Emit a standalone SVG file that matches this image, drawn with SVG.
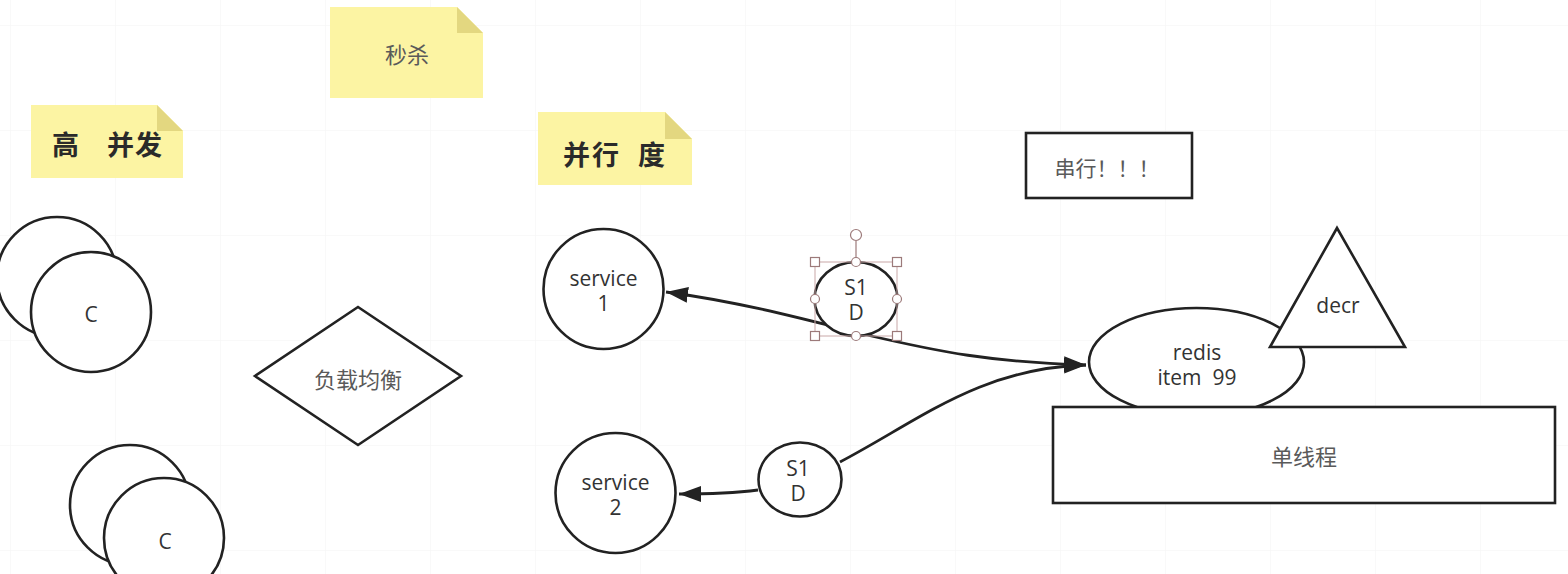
<svg xmlns="http://www.w3.org/2000/svg" width="1568" height="574" viewBox="0 0 1568 574">
  <style>
    .shape { fill: #ffffff; stroke: #222222; stroke-width: 2.6; }
    .note { fill: #fcf4a3; stroke: none; }
    .fold { fill: #e3d780; stroke: none; }
    .en { font-family: "Open Sans", "Noto Sans CJK SC", sans-serif; font-size: 21px; fill: #333333; text-anchor: middle; dominant-baseline: central; }
    .zh { font-family: "Noto Sans CJK SC", "Open Sans", sans-serif; font-size: 21px; fill: #5a5a5a; text-anchor: middle; dominant-baseline: central; }
    .title { font-family: "Noto Sans CJK SC", "Open Sans", sans-serif; font-size: 27px; font-weight: bold; fill: #2a2a2a; dominant-baseline: central; }
    .edge { fill: none; stroke: #222222; stroke-width: 2.8; }
    .handle { fill: #ffffff; stroke: #9c7a7a; stroke-width: 1.2; }
    .selbox { fill: none; stroke: #c9a8a8; stroke-width: 1; }
  </style>
  <defs>
    <pattern id="grid" x="10" y="25" width="105" height="105" patternUnits="userSpaceOnUse">
      <path d="M 0 0 L 105 0 M 0 0 L 0 105" fill="none" stroke="#f3f3f3" stroke-width="1"/>
    </pattern>
    <marker id="arrow" viewBox="0 0 22 16" refX="22" refY="8" markerWidth="22" markerHeight="16" markerUnits="userSpaceOnUse" orient="auto-start-reverse">
      <path d="M 0 0 L 22 8 L 0 16 Z" fill="#222222"/>
    </marker>
  </defs>

  <rect x="0" y="0" width="1568" height="574" fill="#ffffff"/>
  <rect x="0" y="0" width="1568" height="574" fill="url(#grid)"/>

  <!-- sticky notes -->
  <g id="note-miaosha">
    <path class="note" d="M 330 7 L 457 7 L 483 33 L 483 98 L 330 98 Z"/>
    <path class="fold" d="M 457 7 L 483 33 L 457 33 Z"/>
    <text class="zh" x="407" y="53" style="font-size:22px">秒杀</text>
  </g>
  <g id="note-gaobingfa">
    <path class="note" d="M 31 105 L 157 105 L 183 131 L 183 178 L 31 178 Z"/>
    <path class="fold" d="M 157 105 L 183 131 L 157 131 Z"/>
    <text class="title" y="143" x="52 80 107 135">高 并发</text>
  </g>
  <g id="note-bingxingdu">
    <path class="note" d="M 538 112 L 665 112 L 692 139 L 692 185 L 538 185 Z"/>
    <path class="fold" d="M 665 112 L 692 139 L 665 139 Z"/>
    <text class="title" y="153" x="563 592 621 638">并行 度</text>
  </g>

  <!-- clients -->
  <g id="client-1">
    <circle class="shape" cx="57" cy="277" r="60"/>
    <circle class="shape" cx="91" cy="312" r="60"/>
    <text class="en" x="91" y="314">C</text>
  </g>
  <g id="client-2">
    <circle class="shape" cx="130" cy="505" r="60"/>
    <circle class="shape" cx="164" cy="538" r="60"/>
    <text class="en" x="165" y="541">C</text>
  </g>

  <!-- load balancer -->
  <g id="load-balancer">
    <path class="shape" d="M 358 307 L 461 376 L 358 445 L 255 376 Z"/>
    <text class="zh" x="358" y="378" style="font-size:22px">负载均衡</text>
  </g>

  <!-- services -->
  <g id="service-1">
    <circle class="shape" cx="603.5" cy="289" r="60"/>
    <text class="en" x="603.5" y="278">service</text>
    <text class="en" x="603.5" y="303">1</text>
  </g>
  <g id="service-2">
    <circle class="shape" cx="615.5" cy="493" r="60"/>
    <text class="en" x="615.5" y="482">service</text>
    <text class="en" x="615.5" y="507">2</text>
  </g>

  <!-- serial box -->
  <g id="serial">
    <rect class="shape" x="1026" y="133" width="166" height="65"/>
    <text class="zh" x="1107" y="167">串行！！！</text>
  </g>

  <!-- redis -->
  <g id="redis">
    <ellipse class="shape" cx="1196.5" cy="362" rx="107.5" ry="54"/>
    <text class="en" x="1197" y="352">redis</text>
    <text class="en" x="1197" y="377" xml:space="preserve">item  99</text>
  </g>
  <g id="decr">
    <path class="shape" d="M 1337 228 L 1405 347 L 1270 347 Z"/>
    <text class="en" x="1338" y="305">decr</text>
  </g>
  <g id="single-thread">
    <rect class="shape" x="1053" y="407" width="502" height="96"/>
    <text class="zh" x="1304" y="455" style="font-size:22px">单线程</text>
  </g>

  <!-- connectors -->
  <g id="connectors">
    <path class="edge" d="M 1086 365 C 990 362, 940 352, 867 335 C 800 318, 740 302, 666 292" marker-start="url(#arrow)" marker-end="url(#arrow)"/>
    <path class="edge" d="M 840 462 C 920 420, 980 368, 1086 365" marker-end="url(#arrow)"/>
    <path class="edge" d="M 758 490 C 735 493, 715 494, 679 494" marker-end="url(#arrow)"/>
  </g>

  <!-- S1 D nodes -->
  <g id="s1d-top">
    <ellipse class="shape" cx="856" cy="299" rx="41.5" ry="37"/>
    <text class="en" x="856" y="287">S1</text>
    <text class="en" x="856" y="312">D</text>
    <rect class="selbox" x="815" y="262" width="82" height="74"/>
    <line x1="856" y1="241" x2="856" y2="262" stroke="#9c7a7a" stroke-width="1.2"/>
    <circle class="handle" cx="856" cy="235" r="5.5"/>
    <rect class="handle" x="810.5" y="257.5" width="9" height="9"/>
    <rect class="handle" x="892.5" y="257.5" width="9" height="9"/>
    <rect class="handle" x="810.5" y="331.5" width="9" height="9"/>
    <rect class="handle" x="892.5" y="331.5" width="9" height="9"/>
    <circle class="handle" cx="856" cy="262" r="4.5"/>
    <circle class="handle" cx="815" cy="299" r="4.5"/>
    <circle class="handle" cx="897" cy="299" r="4.5"/>
    <circle class="handle" cx="856" cy="336" r="4.5"/>
  </g>
  <g id="s1d-bottom">
    <ellipse class="shape" cx="800" cy="479.5" rx="41.5" ry="37"/>
    <text class="en" x="798" y="468">S1</text>
    <text class="en" x="798" y="493">D</text>
  </g>
</svg>
